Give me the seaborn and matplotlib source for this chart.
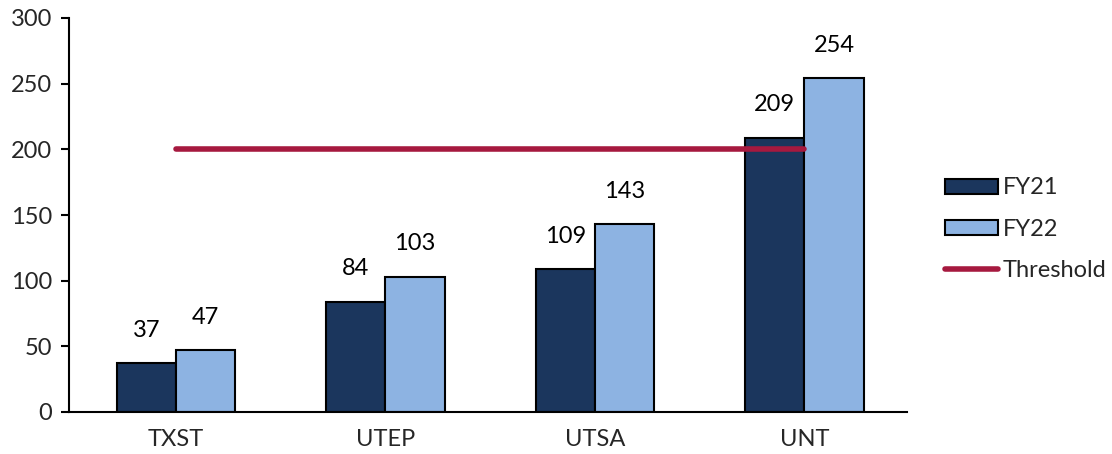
import matplotlib
matplotlib.use("Agg")
import matplotlib.pyplot as plt
import seaborn as sns
import pandas as pd
import numpy as np
from matplotlib.patches import Patch
from matplotlib.lines import Line2D

categories = ["TXST", "UTEP", "UTSA", "UNT"]
fy21 = [37, 84, 109, 209]
fy22 = [47, 103, 143, 254]
threshold = [200, 200, 200, 200]
yticks = [0, 50, 100, 150, 200, 250, 300]

sns.set_theme(style="white")
plt.rcParams['font.family'] = ['Lato', 'DejaVu Sans']

c21 = "#1b365d"
c22 = "#8db3e2"
cth = "#a6193f"
FS = 17

df = pd.DataFrame({
    "cat": categories * 2,
    "val": fy21 + fy22,
    "series": ["FY21"] * len(categories) + ["FY22"] * len(categories),
})

fig = plt.figure(figsize=(11.12, 4.54), dpi=100)
ax = fig.add_axes([69/1112, 42/454, (907-69)/1112, (412-18)/454])

sns.barplot(data=df, x="cat", y="val", hue="series", palette=[c21, c22],
            width=0.565, edgecolor="black", linewidth=1.5, ax=ax, legend=False,
            saturation=1, gap=0)

ax.plot(np.arange(len(categories)), threshold, color=cth, lw=4, solid_capstyle="round", zorder=5)

for cont in ax.containers:
    for bar in cont:
        h = bar.get_height()
        ax.text(bar.get_x() + bar.get_width()/2, h + 17, f"{int(h)}",
                ha="center", va="bottom", fontsize=FS, color="black")

ax.set_ylim(0, 300)
ax.set_xlim(-0.51, 3.49)
ax.set_yticks(yticks)
ax.set_yticklabels([str(t) for t in yticks], fontsize=FS)
ax.set_xlabel("")
ax.set_ylabel("")
ax.tick_params(axis="x", labelsize=FS, length=0, pad=12)
ax.tick_params(axis="y", length=6, width=1.5, color="black", left=True, pad=6)
for s in ["top", "right"]:
    ax.spines[s].set_visible(False)
for s in ["left", "bottom"]:
    ax.spines[s].set_color("black")
    ax.spines[s].set_linewidth(1.5)

handles = [
    Patch(facecolor=c21, edgecolor="black", linewidth=1.5),
    Patch(facecolor=c22, edgecolor="black", linewidth=1.5),
    Line2D([0], [0], color=cth, lw=4, solid_capstyle="round"),
]
fig.legend(handles, ["FY21", "FY22", "Threshold"], loc="center left",
           bbox_to_anchor=(924/1112, 1 - 229/454), frameon=False, fontsize=FS,
           handlelength=2.25, handleheight=0.6, handletextpad=0.2, labelspacing=0.85,
           borderpad=0.4)

fig.savefig("out.png", dpi=100)
